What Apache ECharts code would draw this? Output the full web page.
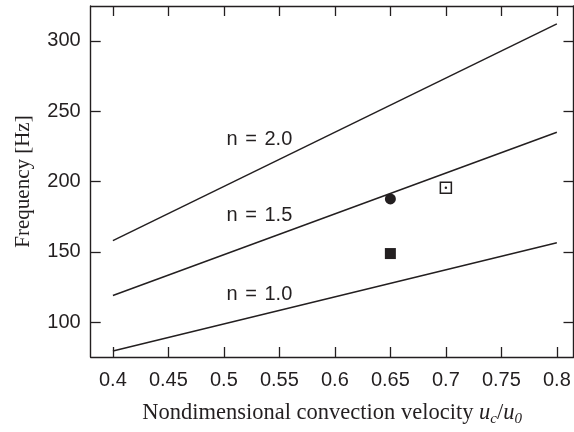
<!DOCTYPE html>
<html><head><meta charset="utf-8">
<script src="https://cdn.jsdelivr.net/npm/echarts@6/dist/echarts.min.js"></script>
<style>html,body{margin:0;padding:0;background:#fff}#c{width:574px;height:432px}</style>
</head><body><div id="c"></div>
<script>
// Theory lines (endpoints)
const lineN20 = [[0.4, 158], [0.8, 312]];
const lineN15 = [[0.4, 119], [0.8, 235]];
const lineN10 = [[0.4, 79.5], [0.8, 156.5]];
// Measured points
const filledCircle = [[0.65, 187.6]];
const filledSquare = [[0.65, 148.8]];
const openSquare = [[0.7, 195.6]];
// Line labels: [x, y, text]
const lineLabels = [[0.532, 229.5, 'n = 2.0'], [0.532, 176, 'n = 1.5'], [0.532, 120, 'n = 1.0']];
const xTicks = [0.4, 0.45, 0.5, 0.55, 0.6, 0.65, 0.7, 0.75, 0.8];
const yTicks = [100, 150, 200, 250, 300];

const ink = '#231f20';
const chart = echarts.init(document.getElementById('c'));
const baseAxisLine = { show: true, onZero: false, lineStyle: { color: ink, width: 1.4 } };
const tick = { show: true, inside: true, length: 10, lineStyle: { color: ink, width: 1.3 } };
const serif = 'Liberation Serif, Times New Roman';
const sans = 'Liberation Sans, Arial';
chart.setOption({
  animation: false,
  grid: { left: 90.7, right: 0.5, top: 6, bottom: 72.7 },
  xAxis: [{
    type: 'value', min: 0.38, max: 0.815, position: 'bottom',
    axisLine: baseAxisLine, axisTick: Object.assign({}, tick, { customValues: xTicks }), splitLine: { show: false },
    axisLabel: {
      show: true, margin: 13, color: ink, fontFamily: sans, fontSize: 20,
      customValues: xTicks, formatter: v => String(+v.toFixed(2))
    },
    name: '{t|Nondimensional convection velocity }{i|u}{s|c}{t|/}{i|u}{s|0}',
    nameLocation: 'middle', nameGap: 43,
    nameTextStyle: {
      rich: {
        t: { fontFamily: serif, fontSize: 22.5, color: ink },
        i: { fontFamily: serif, fontStyle: 'italic', fontSize: 22.5, color: ink },
        s: { fontFamily: serif, fontStyle: 'italic', fontSize: 15, color: ink, padding: [12, 0, 0, 0] }
      }
    }
  }, {
    type: 'value', min: 0.38, max: 0.815, position: 'top',
    axisLine: baseAxisLine, axisTick: Object.assign({}, tick, { customValues: xTicks }),
    axisLabel: { show: false }, splitLine: { show: false }
  }],
  yAxis: [{
    type: 'value', min: 75.3, max: 324.7, position: 'left',
    axisLine: baseAxisLine, axisTick: Object.assign({}, tick, { customValues: yTicks }), splitLine: { show: false },
    axisLabel: {
      show: true, margin: 10, color: ink, fontFamily: sans, fontSize: 20,
      customValues: yTicks
    },
    name: 'Frequency [Hz]', nameLocation: 'middle', nameGap: 57,
    nameTextStyle: { fontFamily: serif, fontSize: 21, color: ink }
  }, {
    type: 'value', min: 75.3, max: 324.7, position: 'right',
    axisLine: baseAxisLine, axisTick: Object.assign({}, tick, { customValues: yTicks }),
    axisLabel: { show: false }, splitLine: { show: false }
  }],
  series: [
    { type: 'line', data: lineN20, symbol: 'none', lineStyle: { color: ink, width: 1.5 } },
    { type: 'line', data: lineN15, symbol: 'none', lineStyle: { color: ink, width: 1.5 } },
    { type: 'line', data: lineN10, symbol: 'none', lineStyle: { color: ink, width: 1.5 } },
    { type: 'scatter', data: filledCircle, symbol: 'circle', symbolSize: 11, itemStyle: { color: ink, opacity: 1 } },
    { type: 'scatter', data: filledSquare, symbol: 'rect', symbolSize: 11, itemStyle: { color: ink, opacity: 1 } },
    { type: 'scatter', data: openSquare, symbol: 'rect', symbolSize: 11, itemStyle: { color: '#fff', borderColor: ink, borderWidth: 1.5, opacity: 1 } },
    { type: 'scatter', data: openSquare, symbol: 'circle', symbolSize: 2.5, itemStyle: { color: ink, opacity: 1 } },
    {
      type: 'scatter', data: lineLabels.map(d => ({ value: [d[0], d[1]], name: d[2] })),
      symbolSize: 0, silent: true, itemStyle: { opacity: 1, color: ink },
      label: {
        show: true, position: 'inside', color: ink, fontFamily: sans, fontSize: 20,
        opacity: 1, textBorderWidth: 0,
        formatter: p => p.name.replace(' = ', '{e| = }'),
        rich: { e: { fontFamily: sans, fontSize: 20, color: ink, padding: [0, 2, 0, 2], textBorderWidth: 0 } }
      }
    }
  ]
});
</script></body></html>
